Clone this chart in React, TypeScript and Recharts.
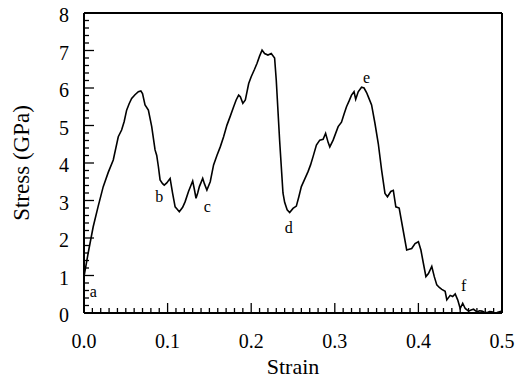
import { Line, XAxis, YAxis, ReferenceLine, Scatter, ComposedChart } from "recharts";

// Stress-strain curve, values

const FONT = "Liberation Serif";

const X_TICKS = [0, 0.1, 0.2, 0.3, 0.4, 0.5];
const Y_TICKS = [0, 1, 2, 3, 4, 5, 6, 7, 8];

const STRAIN = [
  0.0, 0.005, 0.011, 0.017, 0.023, 0.029, 0.035, 0.041, 0.045, 0.048, 0.051, 0.054, 0.057, 0.061, 0.065, 0.068,
  0.07, 0.073, 0.077, 0.081, 0.085, 0.087, 0.089, 0.091, 0.094, 0.096, 0.099, 0.103, 0.106, 0.109, 0.111, 0.114,
  0.118, 0.121, 0.125, 0.13, 0.132, 0.134, 0.136, 0.138, 0.142, 0.144, 0.147, 0.151, 0.155, 0.159, 0.163, 0.167,
  0.171, 0.175, 0.179, 0.182, 0.185, 0.187, 0.19, 0.193, 0.197, 0.2, 0.204, 0.207, 0.21, 0.213, 0.216, 0.22,
  0.224, 0.228, 0.23, 0.232, 0.234, 0.236, 0.238, 0.24, 0.243, 0.246, 0.25, 0.254, 0.257, 0.26, 0.264, 0.268,
  0.271, 0.274, 0.278, 0.282, 0.286, 0.289, 0.292, 0.294, 0.298, 0.304, 0.308, 0.311, 0.314, 0.317, 0.32, 0.323,
  0.325, 0.328, 0.332, 0.335, 0.338, 0.34, 0.344, 0.348, 0.352, 0.356, 0.36, 0.363, 0.367, 0.37, 0.373, 0.377,
  0.381, 0.386, 0.389, 0.392, 0.396, 0.4, 0.403, 0.406, 0.409, 0.412, 0.416, 0.419, 0.422, 0.425, 0.428, 0.432,
  0.434, 0.438, 0.441, 0.444, 0.447, 0.45, 0.453, 0.456, 0.46, 0.463, 0.466, 0.47, 0.473, 0.476, 0.479, 0.482,
  0.485, 0.488, 0.491, 0.494, 0.497, 0.5,
];
const STRESS = [
  0.97, 1.6, 2.3, 2.85, 3.37, 3.75, 4.08, 4.7, 4.88, 5.1, 5.41, 5.58, 5.72, 5.82, 5.9, 5.92,
  5.85, 5.55, 5.41, 4.97, 4.35, 4.2, 3.9, 3.55, 3.45, 3.41, 3.47, 3.59, 3.19, 2.83, 2.78, 2.7,
  2.82, 2.97, 3.24, 3.52, 3.3, 3.06, 3.2, 3.37, 3.59, 3.45, 3.28, 3.5, 3.95, 4.2, 4.43, 4.7,
  5.01, 5.25, 5.5, 5.68, 5.81, 5.77, 5.59, 5.68, 6.12, 6.3, 6.5, 6.66, 6.85, 7.01, 6.92, 6.88,
  6.92, 6.8, 6.2, 5.4, 4.6, 3.9, 3.2, 2.95, 2.75, 2.68, 2.79, 2.85, 3.1, 3.37, 3.57, 3.77,
  3.95, 4.17, 4.48, 4.61, 4.63, 4.79, 4.55, 4.43, 4.61, 4.97, 5.09, 5.3, 5.5, 5.65, 5.81, 5.9,
  5.7, 5.9, 6.02, 6.0, 5.88, 5.77, 5.55, 5.06, 4.52, 3.81, 3.19, 3.1, 3.24, 3.27, 2.83, 2.8,
  2.3, 1.68, 1.7, 1.72, 1.85, 1.9, 1.68, 1.32, 0.97, 1.05, 1.24, 0.97, 0.75, 0.68, 0.63, 0.58,
  0.35, 0.47, 0.44, 0.51, 0.35, 0.12, 0.26, 0.12, 0.05, 0.08, 0.1, 0.03, 0.06, 0.05, 0.02, 0.01,
  0.04, 0.03, 0.0, 0.01, 0.03, 0.05,
];

// letters marking points on the curve
const MARK_NAMES = ["a", "b", "c", "d", "e", "f"];
const MARK_X = [0.011, 0.09, 0.1475, 0.245, 0.338, 0.454];
const MARK_Y = [0.57, 3.1, 2.82, 2.27, 6.26, 0.72];

const data = STRAIN.map((s, i) => ({ strain: s, stress: STRESS[i] }));
const marks = MARK_NAMES.map((n, i) => ({ strain: MARK_X[i], stress: MARK_Y[i], name: n }));

// minor tick positions (0.01 on x, 0.2 on y)
const xMinor: number[] = [];
for (let i = 0; i <= 50; i++) xMinor.push(+(i / 100).toFixed(2));
const yMinor: number[] = [];
for (let i = 0; i <= 40; i++) yMinor.push(+(i / 5).toFixed(1));

// recharts default tickSize 6 + tickMargin 2
const OFF = 8;

const XTick = (p: any) => {
  const { x, y, payload } = p;
  const v = payload.value;
  const major = X_TICKS.some((t) => Math.abs(t - v) < 1e-6);
  const ay = y - OFF;
  return (
    <g>
      <path d={`M${x},${ay}V${ay - (major ? 10 : 5)}`} stroke="#000" strokeWidth={1.3} />
      {major && (
        <text x={x} y={ay + 35} textAnchor="middle" fill="#000" fontSize={20} fontFamily={FONT}>
          {v.toFixed(1)}
        </text>
      )}
    </g>
  );
};

const YTick = (p: any) => {
  const { x, y, payload } = p;
  const v = payload.value;
  const major = Y_TICKS.some((t) => Math.abs(t - v) < 1e-6);
  const ax = x + OFF;
  return (
    <g>
      <path d={`M${ax},${y}H${ax + (major ? 10 : 5)}`} stroke="#000" strokeWidth={1.3} />
      {major && (
        <text x={ax - 15} y={y + 9} textAnchor="end" fill="#000" fontSize={20} fontFamily={FONT}>
          {v}
        </text>
      )}
    </g>
  );
};

const MarkLabel = ({ cx, cy, payload }: any) => (
  <text x={cx} y={cy + 5} textAnchor="middle" fill="#000" fontSize={16} fontFamily={FONT}>
    {payload.name}
  </text>
);

const XTitle = ({ viewBox }: any) => (
  <text x={viewBox.x + viewBox.width / 2} y={viewBox.y + 61} textAnchor="middle" fill="#000" fontSize={22} fontFamily={FONT}>
    Strain
  </text>
);

const YTitle = ({ viewBox }: any) => {
  const cx = viewBox.x + 29;
  const cy = viewBox.y + viewBox.height / 2;
  return (
    <text x={cx} y={cy} transform={`rotate(-90, ${cx}, ${cy})`} textAnchor="middle" fill="#000" fontSize={23} fontFamily={FONT}>
      Stress (GPa)
    </text>
  );
};

export default function App() {
  return (
    <div style={{ position: "absolute", left: 0, top: 0, background: "#fff" }}>
      <ComposedChart width={519} height={380} data={data} margin={{ top: 13, right: 17, bottom: 0, left: 0 }}>
        <XAxis
          dataKey="strain"
          type="number"
          domain={[0, 0.5]}
          ticks={xMinor}
          interval={0}
          tick={<XTick />}
          tickLine={false}
          height={67}
          axisLine={{ stroke: "#000", strokeWidth: 2 }}
          label={<XTitle />}
        />
        <YAxis
          dataKey="stress"
          type="number"
          domain={[0, 8]}
          ticks={yMinor}
          interval={0}
          tick={<YTick />}
          tickLine={false}
          width={84}
          axisLine={{ stroke: "#000", strokeWidth: 2 }}
          label={<YTitle />}
        />
        <ReferenceLine y={8} stroke="#000" strokeWidth={2} />
        <ReferenceLine x={0.5} stroke="#000" strokeWidth={2} />
        <Line dataKey="stress" type="linear" stroke="#000" strokeWidth={1.6} dot={false} isAnimationActive={false} />
        <Scatter data={marks} dataKey="stress" shape={<MarkLabel />} isAnimationActive={false} />
      </ComposedChart>
    </div>
  );
}
